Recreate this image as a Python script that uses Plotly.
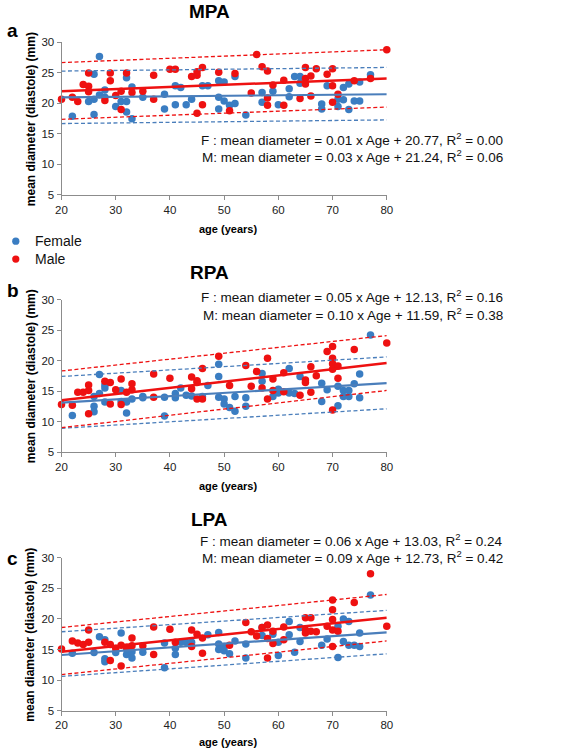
import plotly.graph_objects as go

# ---------------- data ----------------
fit_ages = [20, 80]

# MPA
mpa_f_age = [22, 25, 26, 26, 26, 27, 27, 28, 28, 30, 31, 32, 32, 32, 33, 33, 35, 39, 39, 41, 41, 42, 43, 44, 46, 47,
             49, 49, 49, 50, 50, 51, 52, 52, 54, 57, 57, 59, 60, 62, 62, 63, 64, 64, 68, 68, 69, 71, 71, 72, 72, 73,
             73, 74, 75, 75, 77]
mpa_f_val = [17.9, 20.3, 24.8, 20.7, 18.2, 27.7, 21.4, 22.2, 21.0, 19.5, 20.3, 20.3, 18.6, 24.2, 22.7, 17.5, 21.0,
             21.5, 19.1, 22.9, 19.8, 22.6, 19.8, 20.7, 22.9, 22.9, 23.7, 21.0, 19.1, 23.5, 20.4, 19.7, 24.4, 20.0,
             18.1, 21.8, 20.2, 22.0, 19.8, 22.4, 21.1, 24.4, 24.4, 23.3, 19.9, 19.1, 22.9, 20.7, 19.5, 20.6, 22.6,
             19.0, 23.2, 20.4, 20.4, 23.5, 24.7]
mpa_m_age = [20, 22, 23, 24, 25, 25, 25, 28, 29, 29, 30, 31, 31, 32, 33, 35, 37, 37, 40, 41, 44, 45, 45, 45, 46, 46,
             49, 51, 52, 55, 56, 57, 58, 58, 58, 59, 61, 61, 64, 65, 65, 65, 66, 66, 67, 69, 70, 70, 70, 71, 74, 77, 80]
mpa_m_val = [20.7, 21.0, 20.3, 23.1, 25.0, 22.8, 21.9, 20.5, 25.0, 23.7, 21.3, 22.0, 19.0, 25.0, 21.8, 22.0, 24.6,
             20.7, 25.6, 25.6, 24.4, 24.6, 25.2, 18.4, 25.9, 19.8, 25.1, 18.8, 24.9, 21.7, 28.0, 26.0, 25.3, 20.9,
             19.7, 23.0, 23.8, 19.7, 20.8, 25.9, 24.1, 23.2, 24.5, 21.2, 25.7, 24.8, 25.7, 22.9, 20.2, 21.5, 23.7,
             24.1, 28.8]
mpa_f_fit = [21.0, 21.5]
mpa_m_fit = [22.0, 24.1]
mpa_f_upper = [25.3, 25.9]
mpa_f_lower = [16.7, 17.3]
mpa_m_upper = [26.7, 28.8]
mpa_m_lower = [17.4, 19.4]

# RPA
rpa_f_age = [22, 26, 26, 26, 27, 27, 28, 28, 28, 31, 31, 32, 32, 33, 35, 35, 39, 39, 41, 41, 42, 43, 44, 46, 47, 49,
             49, 49, 50, 50, 51, 52, 52, 54, 54, 57, 57, 59, 60, 60, 62, 62, 63, 64, 68, 68, 69, 71, 71, 72, 72, 73,
             73, 74, 75, 75, 77]
rpa_f_val = [11.0, 14.1, 12.5, 11.6, 14.6, 17.7, 16.0, 15.5, 13.2, 13.3, 15.1, 13.2, 11.4, 13.7, 14.1, 13.9, 14.0,
             10.9, 14.6, 13.9, 15.5, 14.3, 14.2, 14.1, 15.9, 17.4, 19.4, 14.0, 13.7, 12.9, 12.3, 14.1, 11.7, 13.9,
             12.5, 16.6, 17.9, 14.1, 14.7, 15.3, 14.7, 18.7, 14.6, 17.4, 16.3, 13.3, 15.2, 15.8, 12.6, 15.1, 14.1,
             15.1, 14.1, 16.2, 17.8, 13.9, 24.2]
rpa_m_age = [20, 22, 23, 24, 25, 25, 25, 28, 29, 29, 30, 31, 31, 32, 33, 33, 37, 37, 40, 44, 44, 45, 45, 45, 46, 46,
             49, 51, 54, 55, 56, 57, 58, 58, 59, 59, 61, 61, 64, 65, 65, 66, 66, 67, 69, 70, 70, 70, 70, 70, 71, 71,
             74, 80]
rpa_m_val = [12.8, 12.7, 14.8, 14.8, 16.0, 15.1, 11.3, 16.6, 16.4, 12.9, 15.2, 17.0, 12.8, 14.8, 16.2, 15.2, 17.8,
             14.0, 17.1, 17.3, 15.4, 16.7, 16.4, 13.7, 13.7, 18.7, 20.7, 15.9, 19.2, 15.8, 18.2, 15.5, 20.4, 13.7,
             17.0, 15.1, 18.0, 14.9, 14.3, 16.8, 16.4, 19.0, 14.8, 17.5, 21.5, 22.3, 20.4, 19.5, 18.6, 11.9, 19.1,
             17.1, 21.8, 22.9]
rpa_f_fit = [13.1, 16.3]
rpa_m_fit = [13.5, 19.6]
rpa_f_upper = [17.4, 20.6]
rpa_f_lower = [8.9, 12.1]
rpa_m_upper = [18.3, 24.1]
rpa_m_lower = [9.0, 15.1]

# LPA
lpa_f_age = [22, 26, 27, 28, 28, 28, 30, 31, 32, 32, 33, 33, 35, 39, 39, 41, 41, 42, 43, 44, 47, 49, 49, 49, 50, 50,
             51, 52, 54, 54, 57, 57, 59, 60, 60, 62, 62, 63, 64, 64, 68, 69, 71, 71, 72, 72, 73, 73, 74, 75, 75, 77]
lpa_f_val = [14.4, 14.5, 17.1, 16.6, 13.5, 13.0, 14.5, 17.7, 15.1, 14.2, 14.65, 13.6, 14.55, 16.05, 12.0, 15.2,
             14.2, 16.2, 16.2, 16.2, 17.4, 17.8, 15.9, 15.0, 14.8, 15.5, 14.3, 16.4, 15.9, 13.6, 18.6, 17.3, 17.5,
             16.2, 14.0, 19.6, 17.4, 14.55, 18.6, 16.3, 15.7, 16.7, 13.7, 18.8, 20.0, 16.3, 19.6, 15.7, 15.7, 17.7,
             15.5, 23.9]
lpa_m_age = [20, 22, 23, 24, 25, 25, 28, 29, 29, 30, 31, 31, 32, 33, 33, 35, 37, 37, 40, 41, 44, 44, 45, 46, 46, 51,
             54, 55, 56, 57, 58, 58, 58, 59, 59, 61, 61, 65, 65, 65, 66, 66, 67, 69, 70, 70, 70, 70, 70, 71, 74, 77, 80]
lpa_m_val = [15.1, 16.4, 16.05, 15.8, 16.2, 18.2, 16.2, 15.8, 13.2, 15.2, 15.7, 12.3, 15.35, 16.9, 15.6, 15.6, 18.7,
             14.2, 18.3, 16.2, 18.2, 15.5, 17.5, 16.9, 14.4, 15.7, 19.4, 17.9, 17.2, 18.6, 19.0, 16.8, 13.6, 18.0,
             16.0, 18.7, 16.6, 20.2, 18.2, 17.7, 20.2, 18.0, 17.9, 18.8, 23.1, 21.5, 19.9, 18.2, 15.5, 18.0, 22.7,
             27.4, 18.8]
lpa_f_fit = [14.1, 17.8]
lpa_m_fit = [14.65, 20.2]
lpa_f_upper = [17.9, 21.4]
lpa_f_lower = [10.6, 14.3]
lpa_m_upper = [18.6, 24.0]
lpa_m_lower = [10.9, 16.4]

titles = ["MPA", "RPA", "LPA"]
letters = ["a", "b", "c"]
eq_f = ["F : mean diameter = 0.01 x Age + 20.77, R<sup>2</sup> = 0.00",
        "F : mean diameter = 0.05 x Age + 12.13, R<sup>2</sup> = 0.16",
        "F : mean diameter = 0.06 x Age + 13.03, R<sup>2</sup> = 0.24"]
eq_m = ["M: mean diameter = 0.03 x Age + 21.24, R<sup>2</sup> = 0.06",
        "M: mean diameter = 0.10 x Age + 11.59, R<sup>2</sup> = 0.38",
        "M: mean diameter = 0.09 x Age + 12.73, R<sup>2</sup> = 0.42"]
legend_names = ["Female", "Male"]
x_ticks = [20, 30, 40, 50, 60, 70, 80]
y_ticks = [5, 10, 15, 20, 25, 30]

# ---------------- layout helpers ----------------
W, H = 567, 756
BLUE_PT = "#3A7DC2"
BLUE_LN = "#4A7EBB"
RED = "#EE1111"
FONT = "Liberation Sans, Arial, Helvetica, sans-serif"

def px_x(p):
    return p / W

def px_y(p):
    return 1 - p / H

# plot area tops / bottoms in page pixels
tops = [37, 298.3, 560.7]
bottoms = [192, 453.3, 716]
x_left, x_right = 56.7, 389
title_y = [6, 271, 522]
letter_y = [25, 289, 561]
eqf_y = [135, 295, 543]
eqm_y = [152, 313, 560]
xtitle_y = [227, 488, 748]
legend_font = 14
legend_top = 239
legend_cols = [BLUE_PT, RED]

panels = [
    (mpa_f_age, mpa_f_val, mpa_m_age, mpa_m_val, mpa_f_fit, mpa_m_fit, mpa_f_upper, mpa_f_lower, mpa_m_upper, mpa_m_lower),
    (rpa_f_age, rpa_f_val, rpa_m_age, rpa_m_val, rpa_f_fit, rpa_m_fit, rpa_f_upper, rpa_f_lower, rpa_m_upper, rpa_m_lower),
    (lpa_f_age, lpa_f_val, lpa_m_age, lpa_m_val, lpa_f_fit, lpa_m_fit, lpa_f_upper, lpa_f_lower, lpa_m_upper, lpa_m_lower),
]

fig = go.Figure()
annotations = []
shapes = []
layout = {}

for i, (fa, fv, ma, mv, ffit, mfit, fup, flo, mup, mlo) in enumerate(panels):
    n = "" if i == 0 else str(i + 1)
    xa, ya = "x" + n, "y" + n
    fig.add_trace(go.Scatter(x=fa, y=fv, xaxis=xa, yaxis=ya, mode="markers", name="Female",
                             marker=dict(color=BLUE_PT, size=7.5), cliponaxis=False, showlegend=False))
    fig.add_trace(go.Scatter(x=ma, y=mv, xaxis=xa, yaxis=ya, mode="markers", name="Male",
                             marker=dict(color=RED, size=7.5), cliponaxis=False, showlegend=False))
    for vals, col, dash, w in [(fup, BLUE_LN, "4px,2.5px", 1.3), (flo, BLUE_LN, "4px,2.5px", 1.3),
                               (mup, RED, "4px,2.5px", 1.3), (mlo, RED, "4px,2.5px", 1.3),
                               (ffit, BLUE_LN, "solid", 2.2), (mfit, RED, "solid", 2.5)]:
        fig.add_trace(go.Scatter(x=fit_ages, y=vals, xaxis=xa, yaxis=ya, mode="lines",
                                 line=dict(color=col, width=w, dash=dash), showlegend=False,
                                 hoverinfo="skip"))

    layout["xaxis" + n] = dict(domain=[px_x(x_left), px_x(x_right)], range=[20, 80], tickvals=x_ticks,
                               anchor=ya, showline=True, linecolor="#8C8C8C", linewidth=1,
                               ticks="outside", ticklen=4, tickcolor="#8C8C8C", showgrid=False,
                               zeroline=False, tickfont=dict(size=11.5, color="#222", family=FONT))
    layout["yaxis" + n] = dict(domain=[px_y(bottoms[i]), px_y(tops[i])], range=[5, 30], tickvals=y_ticks,
                               anchor=xa, showline=True, linecolor="#8C8C8C", linewidth=1,
                               ticks="outside", ticklen=4, tickcolor="#8C8C8C", showgrid=False,
                               zeroline=False, tickfont=dict(size=11.5, color="#222", family=FONT))

    mid = (tops[i] + bottoms[i]) / 2
    annotations += [
        dict(text="<b>" + titles[i] + "</b>", x=px_x(208), y=px_y(title_y[i]), xref="paper", yref="paper",
             showarrow=False, font=dict(size=19, color="black", family=FONT), xanchor="center", yanchor="middle"),
        dict(text="<b>" + letters[i] + "</b>", x=px_x(-1), y=px_y(letter_y[i]), xref="paper", yref="paper",
             showarrow=False, font=dict(size=19, color="black", family=FONT), xanchor="left", yanchor="middle"),
        dict(text=eq_f[i], x=px_x(510), y=px_y(eqf_y[i]), xref="paper", yref="paper", showarrow=False,
             font=dict(size=13.5, color="#111", family=FONT), xanchor="right", yanchor="middle"),
        dict(text=eq_m[i], x=px_x(510), y=px_y(eqm_y[i]), xref="paper", yref="paper", showarrow=False,
             font=dict(size=13.5, color="#111", family=FONT), xanchor="right", yanchor="middle"),
        dict(text="<b>mean diameter (diastole) (mm)</b>", x=px_x(25), y=px_y(mid), xref="paper", yref="paper",
             showarrow=False, textangle=-90, font=dict(size=12, color="black", family=FONT),
             xanchor="center", yanchor="middle"),
        dict(text="<b>age (years)</b>", x=px_x(227), y=px_y(xtitle_y[i]), xref="paper", yref="paper",
             showarrow=False, font=dict(size=11, color="black", family=FONT), xanchor="center", yanchor="middle"),
    ]

# manual legend: one text block, one marker per line
line_h = legend_font * 1.3
annotations.append(dict(text="<br>".join(legend_names), x=px_x(28), y=px_y(legend_top - line_h / 2 - 1),
                        xref="paper", yref="paper", showarrow=False, align="left",
                        font=dict(size=legend_font, color="#111", family=FONT), xanchor="left", yanchor="top"))
for k, col in enumerate(legend_cols):
    cy = legend_top + k * line_h
    r = 3.7
    shapes.append(dict(type="circle", xref="paper", yref="paper", x0=px_x(10 - r), x1=px_x(10 + r),
                       y0=px_y(cy + r), y1=px_y(cy - r), fillcolor=col, line=dict(width=0)))

fig.update_layout(
    width=W, height=H, margin=dict(l=0, r=0, t=0, b=0),
    paper_bgcolor="white", plot_bgcolor="white",
    font=dict(family=FONT),
    annotations=annotations,
    shapes=shapes,
    showlegend=False,
    **layout,
)

fig.write_html("out.html", config={"displayModeBar": False},
               post_script="document.body.style.margin='0';")
